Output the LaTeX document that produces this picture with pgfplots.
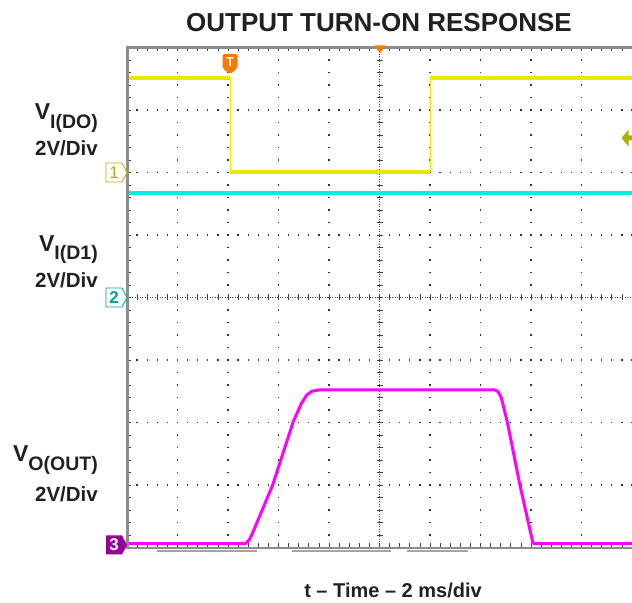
\documentclass[border=0pt]{standalone}
\usepackage{pgfplots}
\pgfplotsset{compat=1.18}
\usepackage{fontspec}
\setmainfont{Liberation Sans}
\definecolor{ch1}{RGB}{232,232,0}
\definecolor{ch1m}{RGB}{176,176,0}
\definecolor{ch2}{RGB}{0,235,235}
\definecolor{ch2m}{RGB}{0,160,160}
\definecolor{ch3}{RGB}{255,0,255}
\definecolor{ch3m}{RGB}{150,0,150}
\definecolor{trig}{RGB}{255,120,0}
\definecolor{txt}{RGB}{35,31,32}
\definecolor{brd}{RGB}{140,140,140}
\newcommand{\vlab}[1]{{\fontsize{23bp}{23bp}\selectfont\bfseries V}\raisebox{-8.5bp}{\fontsize{19.5bp}{19.5bp}\selectfont\bfseries #1}}
\newcommand{\dv}{{\fontsize{20.5bp}{20.5bp}\selectfont\bfseries 2V/Div}}
\begin{document}
\begin{tikzpicture}[x=1bp,y=1bp]
\useasboundingbox (-127,-55.5) rectangle (505,547.5);
% ---- graticule ----
\begin{scope}[black!80, line width=1.3bp]
\foreach \i in {1,2,3,4,6,7,8,9} \draw[dash pattern=on 1.3bp off 11.2bp] (\i*50.5,-0.65) -- (\i*50.5,500);
\foreach \j in {1,2,3,5,6,7} \draw[dash pattern=on 1.3bp off 8.8bp] (-0.65,\j*62.5) -- (505,\j*62.5);
\end{scope}
\begin{scope}[black!75, line width=0.8bp]
\draw[dash pattern=on 1bp off 1.5bp] (252.5,0) -- (252.5,500);
\draw[dash pattern=on 1bp off 1.5bp] (0,250) -- (505,250);
\foreach \k in {1,...,39} {
  \draw (249.5,\k*12.5) -- (255.5,\k*12.5);
  \draw (0,\k*12.5) -- (4,\k*12.5);
}
\foreach \k in {1,...,49} {
  \draw (\k*10.1,247) -- (\k*10.1,253);
  \draw (\k*10.1,500) -- (\k*10.1,496);
  \draw (\k*10.1,0) -- (\k*10.1,4);
}
\end{scope}
% ---- traces ----
\begin{axis}[at={(0,0)}, anchor=south west, scale only axis,
  width=505bp, height=500bp, xmin=0, xmax=10, ymin=0, ymax=8,
  enlargelimits=false, axis line style={draw=none}, ticks=none]
\addplot[ch1, line width=1bp] coordinates {(2.04,7.51) (2.04,6.01)};
\addplot[ch1, line width=1bp] coordinates {(6.0,6.01) (6.0,7.51)};
\addplot[ch1, line width=4.5bp] coordinates {(0,7.51) (2.04,7.51)};
\addplot[ch1, line width=4bp] coordinates {(2.04,6.01) (6.0,6.01)};
\addplot[ch1, line width=4.5bp] coordinates {(6.0,7.51) (10,7.51)};
\addplot[ch2, line width=4bp] coordinates {(0,5.67) (10,5.67)};
\addplot[ch3, line width=3bp] coordinates {
 (0,0.06) (2.34,0.06) (2.42,0.12) (2.48,0.22) (2.885,1.0) (3.29,2.01)
 (3.45,2.30) (3.56,2.44) (3.66,2.50) (3.8,2.52) (7.29,2.52) (7.35,2.49)
 (7.41,2.40) (7.53,2.01) (7.78,1.0) (7.98,0.28) (8.03,0.1) (8.06,0.06) (10,0.06)};
\end{axis}
% ---- border ----
\draw[brd, line width=3bp] (0,-1.5) -- (0,501.5);
\draw[brd, line width=3bp] (0,500) -- (505,500);
\draw[brd, line width=2.5bp] (0,-0.5) -- (505,-0.5);
\draw[brd!80, line width=2.5bp] (30,-3.5) -- (130,-3.5);
\draw[brd!80, line width=2.5bp] (165,-3.5) -- (264,-3.5);
\draw[brd!80, line width=2.5bp] (280,-3.5) -- (341,-3.5);
% ---- markers ----
\draw[ch1m, fill=white, line width=0.8bp] (-21,365.5) -- (-5,365.5) -- (0,375) -- (-5,384.5) -- (-21,384.5) -- cycle;
\node[ch1m, inner sep=0] at (-13,375) {\fontsize{17bp}{17bp}\selectfont 1};
\draw[ch2m, fill=white, line width=0.8bp] (-21,240.5) -- (-5,240.5) -- (0,250) -- (-5,259.5) -- (-21,259.5) -- cycle;
\node[ch2m, inner sep=0] at (-13,250) {\fontsize{17bp}{17bp}\selectfont\bfseries 2};
\fill[ch3m] (-21,-7) -- (-5,-7) -- (0,2.5) -- (-5,12) -- (-21,12) -- cycle;
\node[white, inner sep=0] at (-13,2.5) {\fontsize{17bp}{17bp}\selectfont\bfseries 3};
\fill[trig, rounded corners=2bp] (95.5,493.5) -- (110.5,493.5) -- (110.5,479) -- (103,473.5) -- (95.5,479) -- cycle;
\node[white, inner sep=0] at (103,485) {\fontsize{13bp}{13bp}\selectfont\bfseries T};
\fill[trig] (247.5,502) -- (258.5,502) -- (253,494) -- cycle;
\fill[ch1m] (494.5,409.5) -- (501.5,418) -- (501.5,412) -- (505,412) -- (505,407) -- (501.5,407) -- (501.5,401) -- cycle;
% ---- texts ----
\node[txt, anchor=base, inner sep=0] at (252,515.8) {\fontsize{26bp}{26bp}\selectfont\bfseries OUTPUT TURN-ON RESPONSE};
\node[txt, anchor=base, inner sep=0] at (266,-49.5) {\fontsize{20bp}{20bp}\selectfont\bfseries t – Time – 2 ms/div};
\node[txt, anchor=base east, inner sep=0] at (-29,427.5) {\vlab{I(DO)}};
\node[txt, anchor=base east, inner sep=0] at (-29,391.5) {\dv};
\node[txt, anchor=base east, inner sep=0] at (-29,296) {\vlab{I(D1)}};
\node[txt, anchor=base east, inner sep=0] at (-29,259.5) {\dv};
\node[txt, anchor=base east, inner sep=0] at (-29,85.5) {\vlab{O(OUT)}};
\node[txt, anchor=base east, inner sep=0] at (-29,45.5) {\dv};
\end{tikzpicture}
\end{document}
